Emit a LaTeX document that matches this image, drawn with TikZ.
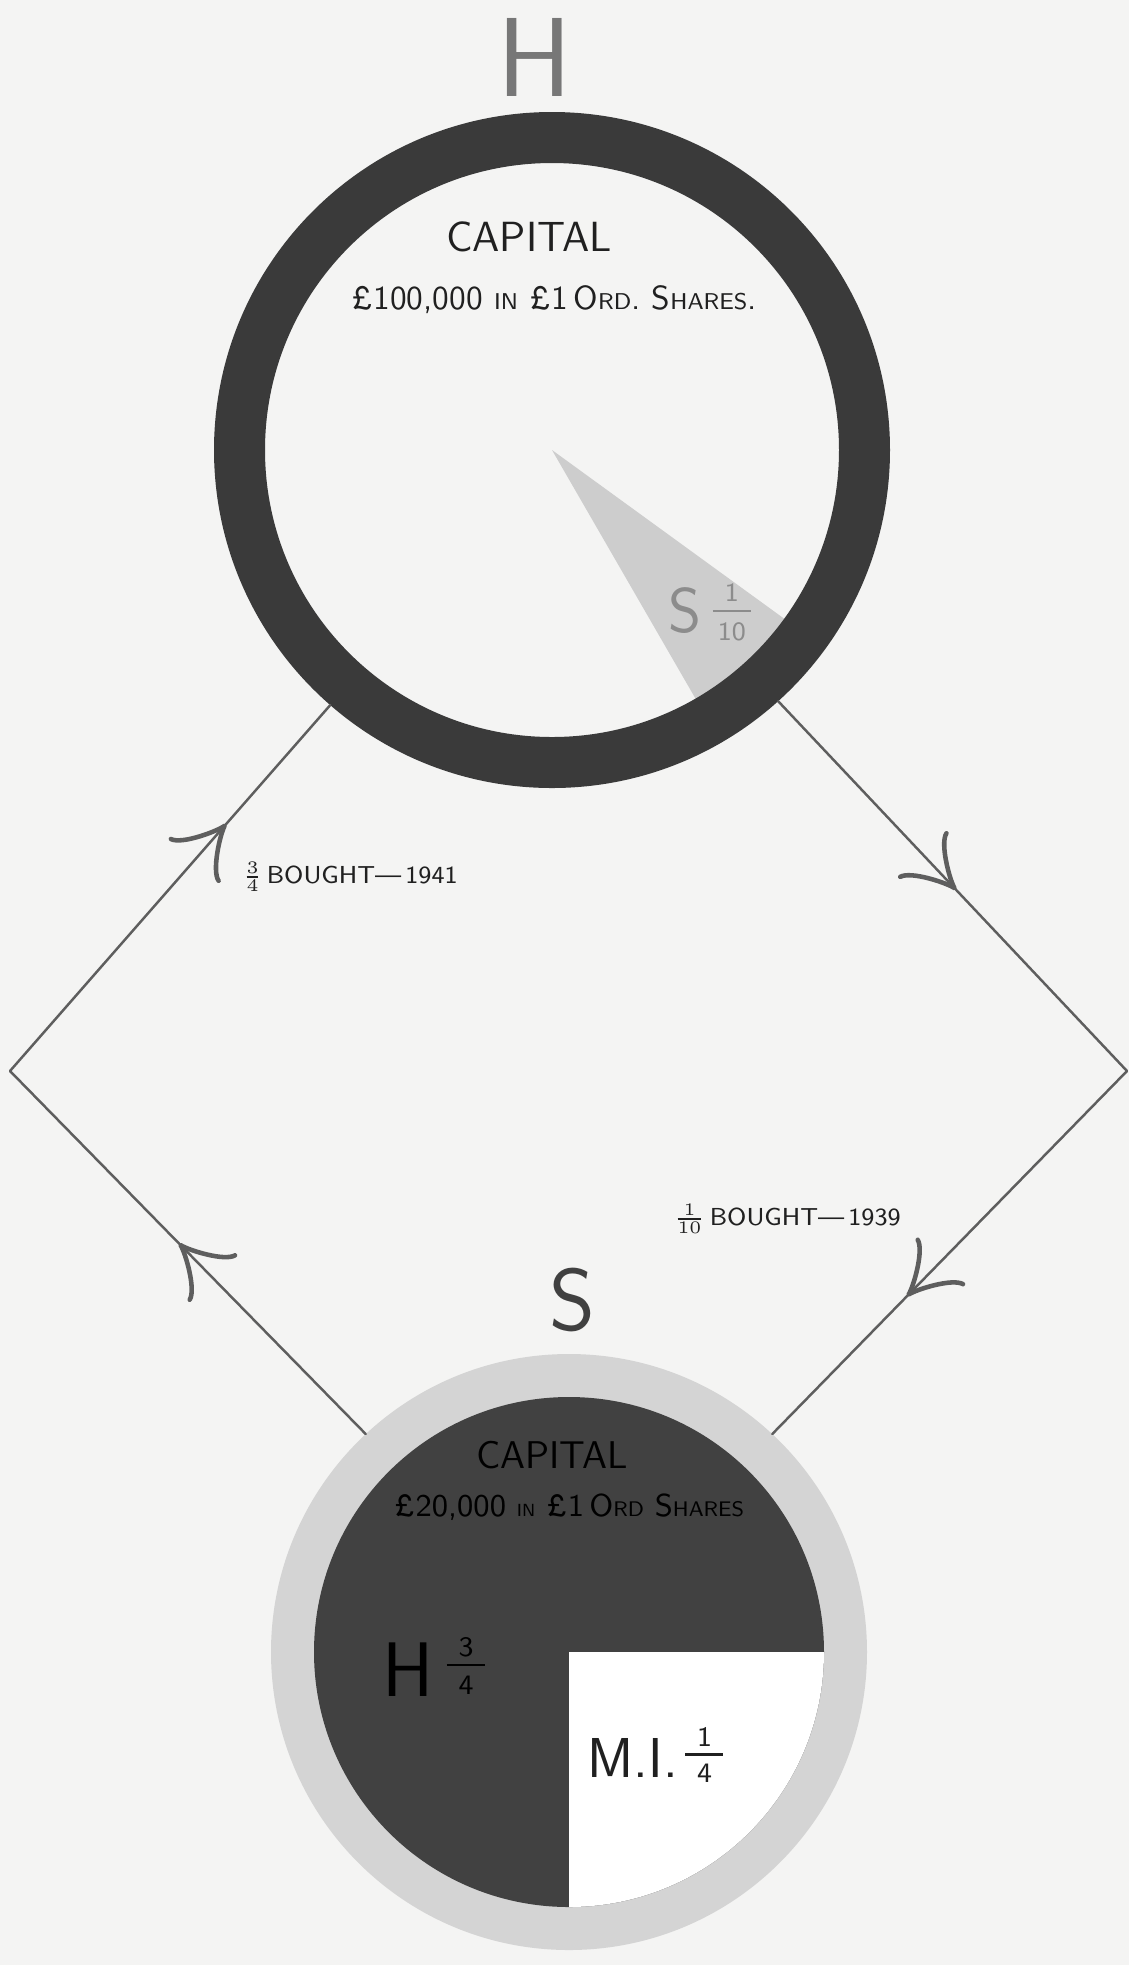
\documentclass[tikz,border=0pt]{standalone}
\usepackage{tikz}
\usepackage{xcolor}
\usetikzlibrary{arrows.meta,decorations.markings}
\definecolor{paperc}{HTML}{F4F4F3}
\definecolor{ringc}{HTML}{3A3A3A}
\definecolor{sharec}{HTML}{CDCDCD}
\definecolor{outerc}{HTML}{D4D4D4}
\definecolor{heldc}{HTML}{414141}
\definecolor{inkc}{HTML}{202020}
\definecolor{linec}{HTML}{5E5E5E}
\definecolor{pencilc}{HTML}{777777}
\newcommand{\lowcaps}[2]{{\fontsize{#1}{#1}\selectfont #2}}
\tikzset{
  hring/.style={circle, draw=ringc, line width=0.51cm, minimum size=6.25cm, inner sep=0pt},
  sdisc/.style={circle, fill=outerc, minimum size=5.96cm, inner sep=0pt, outer sep=0pt},
  share/.style={fill=sharec},
  held/.style={fill=heldc},
  minority/.style={fill=white},
  link/.style={draw=linec, line width=0.7pt, line cap=round},
  flow/.style={postaction={decorate, decoration={markings,
      mark=at position #1 with {\arrow[linec]{Classical TikZ Rightarrow[length=5mm, width=6.8mm, line width=1.3pt]}}}}},
  hand/.style={text=inkc, font=\sffamily, inner sep=0pt},
  fracbar/.style={line width=0.6pt},
  fracpart/.style={inner sep=0pt, font=\sffamily\fontsize{#1}{#1}\selectfont},
}

\begin{document}
\begin{tikzpicture}
\fill[paperc] (0,0) rectangle (11.29,-19.65);
\useasboundingbox (0,0) rectangle (11.29,-19.65);
% holding company H
\coordinate (hc) at (5.52,-4.50);
\fill[share] (hc) -- ++(-60:2.95) arc (-60:-36:2.95) -- cycle;
\node[hring] (H) at (hc) {};
\node[hand, text=pencilc, font=\sffamily\fontsize{32}{36}\selectfont] (htitle) at (5.35,-0.57) {H};
\node[hand, font=\sffamily\fontsize{12}{14}\selectfont] (hcap) at (5.29,-2.37) {CAPITAL};
\node[hand, font=\sffamily\fontsize{9.5}{11}\selectfont] (hshares) at (5.54,-3.00)
  {\pounds100,000 \lowcaps{6.5pt}{IN} \pounds1\,O\lowcaps{6.5pt}{RD}. S\lowcaps{6.5pt}{HARES}.};
\node[hand, text=black!45, font=\sffamily\fontsize{18}{20}\selectfont, anchor=west] (hpart) at (6.68,-6.11) {S};
\draw[fracbar, black!45] ([xshift=3pt]hpart.east) -- ++(0.38,0)
  node[midway, above=2.5pt, fracpart=7.5, text=black!45] (hpartnum) {1}
  node[midway, below=3pt, fracpart=7.5, text=black!45] (hpartden) {10};
% subsidiary S
\node[sdisc] (S) at (5.69,-16.52) {};
\fill[held] (S.center) circle (2.55);
\fill[minority] (S.center) -- ++(0:2.55) arc (0:-90:2.55) -- cycle;
\node[hand, text=black!75, font=\sffamily\fontsize{25}{28}\selectfont] (stitle) at (5.72,-13.00) {S};
\node[hand, text=black, font=\sffamily\fontsize{11}{13}\selectfont] (scap) at (5.52,-14.55) {CAPITAL};
\node[hand, text=black, font=\sffamily\fontsize{9}{11}\selectfont] (sshares) at (5.69,-15.07)
  {\pounds20,000 \lowcaps{5pt}{IN} \pounds1\,O\lowcaps{6pt}{RD} S\lowcaps{6pt}{HARES}};
\node[hand, text=black, font=\sffamily\fontsize{22}{24}\selectfont, anchor=west] (sheld) at (3.82,-16.70) {H};
\draw[fracbar, black] ([xshift=3.5pt, yshift=1.5pt]sheld.east) -- ++(0.38,0)
  node[midway, above=2pt, fracpart=8, text=black] (sheldnum) {3}
  node[midway, below=3pt, fracpart=8, text=black] (shelden) {4};
\node[hand, font=\sffamily\fontsize{16}{18}\selectfont, anchor=west] (sminor) at (5.87,-17.58) {M.I.};
\draw[fracbar, inkc] ([xshift=2pt, yshift=1pt]sminor.east) -- ++(0.38,0)
  node[midway, above=2pt, fracpart=8, text=inkc] (sminornum) {1}
  node[midway, below=2.5pt, fracpart=8, text=inkc] (sminorden) {4};
% purchases
\coordinate (lv) at (0.10,-10.71);
\coordinate (rv) at (11.27,-10.71);
\draw[link, flow=0.51] (H.-48) -- (rv);
\draw[link, flow=0.62] (rv) -- (S.47);
\draw[link, flow=0.525] (S.133) -- (lv);
\draw[link, flow=0.675] (lv) -- (H.-131);
\node[hand, font=\sffamily\fontsize{7}{8}\selectfont] (bought41) at (3.50,-8.77) {$\frac{3}{4}$\,BOUGHT—\,1941};
\node[hand, font=\sffamily\fontsize{7}{8}\selectfont] (bought39) at (7.87,-12.19) {$\frac{1}{10}$\,BOUGHT—\,1939};
\end{tikzpicture}
\end{document}
